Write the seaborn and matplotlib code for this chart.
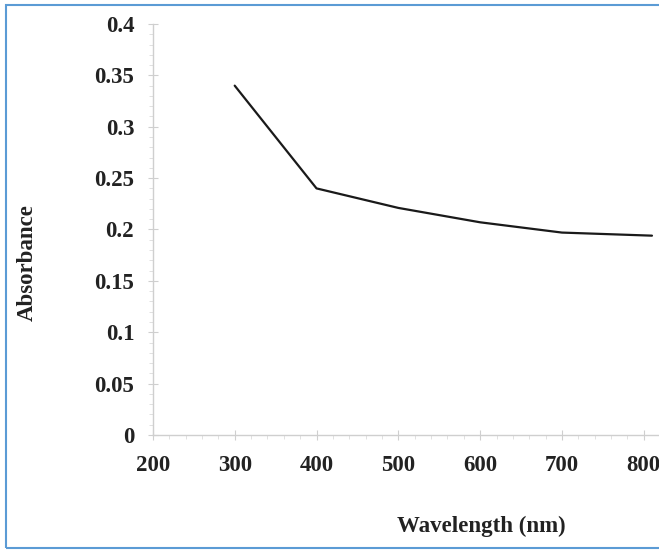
import numpy as np
import pandas as pd
import matplotlib
matplotlib.use("Agg")
import matplotlib.pyplot as plt
from matplotlib.ticker import MultipleLocator, FuncFormatter
from matplotlib.patches import Rectangle
import seaborn as sns

wavelength = [300, 400, 500, 600, 700, 810]
absorbance = [0.340, 0.240, 0.221, 0.207, 0.197, 0.194]

df = pd.DataFrame({'wavelength': wavelength, 'absorbance': absorbance})

sns.set_style("white")
plt.rcParams['font.family'] = ['Liberation Serif', 'DejaVu Serif']
plt.rcParams['font.weight'] = 'bold'

fig = plt.figure(figsize=(6.59, 5.53), dpi=100)
ax = fig.add_axes([0.232, 0.2134, 0.768, 0.7432])

sns.lineplot(x='wavelength', y='absorbance', data=df, color='#1a1a1a', linewidth=1.6, ax=ax)

ax.set_xlim(200, 818.6)
ax.set_ylim(0, 0.4)
ax.xaxis.set_major_locator(MultipleLocator(100))
ax.xaxis.set_minor_locator(MultipleLocator(20))
ax.yaxis.set_major_locator(MultipleLocator(0.05))
ax.yaxis.set_minor_locator(MultipleLocator(0.01))
ax.yaxis.set_major_formatter(FuncFormatter(lambda v, p: '{:g}'.format(round(v, 2))))

for s in ['top', 'right']:
    ax.spines[s].set_visible(False)
for s in ['left', 'bottom']:
    ax.spines[s].set_color('#cfcfcf')
    ax.spines[s].set_linewidth(1.0)

ax.tick_params(which='major', direction='inout', length=7, color='#cfcfcf',
               labelsize=16.5)
ax.tick_params(axis='y', which='major', pad=10)
ax.tick_params(axis='x', which='major', pad=11)
ax.tick_params(which='minor', direction='out', length=3, color='#dcdcdc')
ax.tick_params(axis='y', which='both', left=True)
ax.tick_params(axis='x', which='both', bottom=True)
for lab in ax.get_xticklabels() + ax.get_yticklabels():
    lab.set_fontweight('bold')
    lab.set_color('#222222')

ax.set_xlabel('Wavelength (nm)', fontsize=16.5, fontweight='bold', color='#222222')
ax.set_ylabel('Absorbance', fontsize=16.5, fontweight='bold', color='#222222')
ax.xaxis.set_label_coords((481 - 153) / (659 - 153), -(516 - 435) / 411.0)
ax.yaxis.set_label_coords(-(152 - 37) / 506.0, (435 - 263) / 411.0)

# light blue frame around the figure
fig.patches.append(Rectangle((6 / 659, 1 - 548 / 553), 660 / 659, (548 - 5) / 553,
                             transform=fig.transFigure, fill=False,
                             edgecolor='#5b9bd5', linewidth=1.5))

plt.savefig('out.png', dpi=100)
